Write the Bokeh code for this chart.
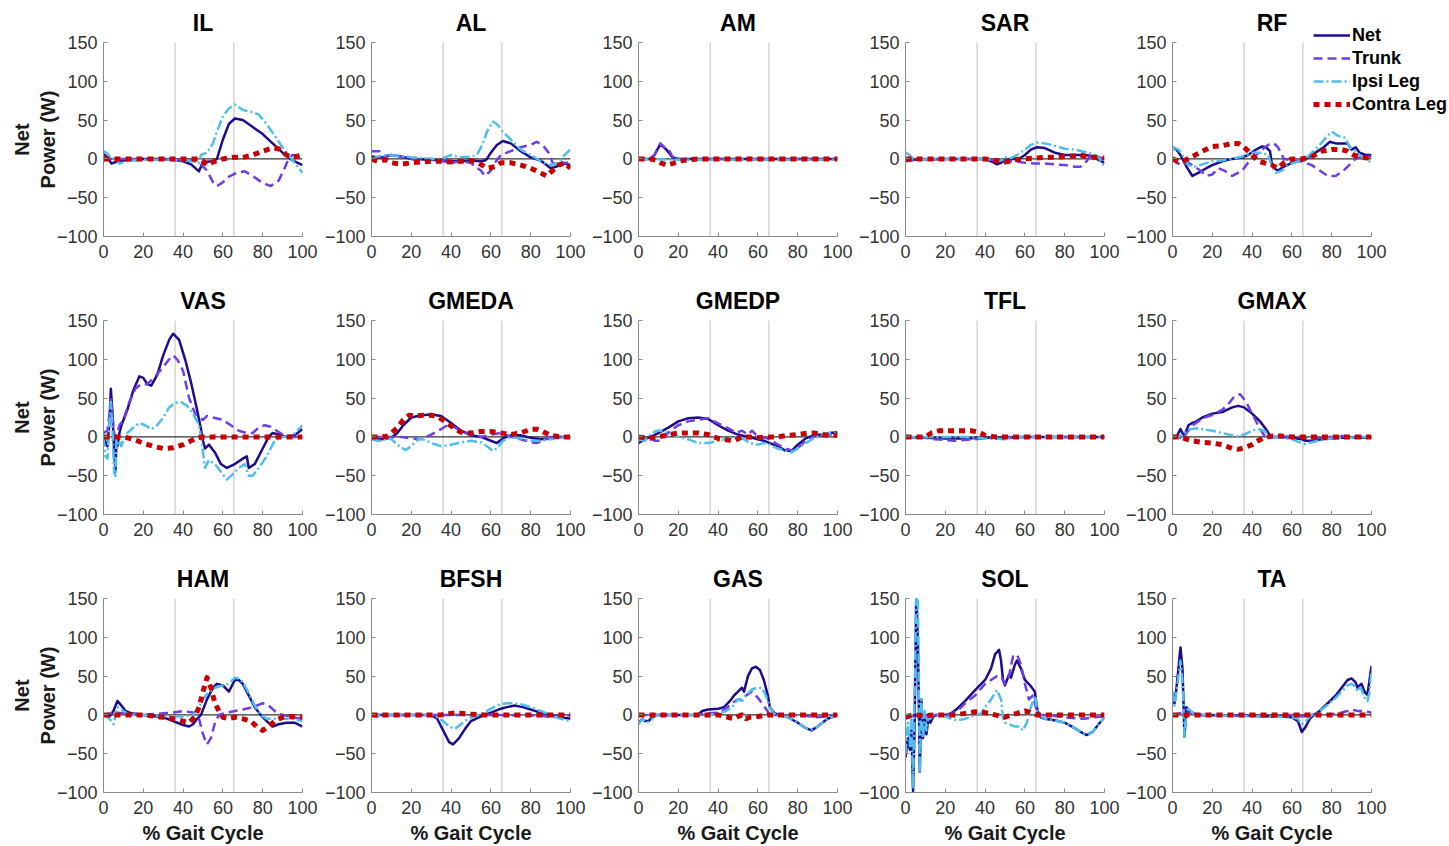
from bokeh.plotting import figure
from bokeh.layouts import column, row
from bokeh.models import Span, Legend, LegendItem, Range1d
from bokeh.embed import file_html
from bokeh.resources import INLINE

# ---------------- data ----------------
MUSCLES = ["IL", "AL", "AM", "SAR", "RF",
           "VAS", "GMEDA", "GMEDP", "TFL", "GMAX",
           "HAM", "BFSH", "GAS", "SOL", "TA"]
SERIES = ["Net", "Trunk", "Ipsi Leg", "Contra Leg"]
X_TICKS = [0, 20, 40, 60, 80, 100]
Y_TICKS = [-100, -50, 0, 50, 100, 150]
GAIT_EVENTS = [36, 65.5]

IL_net = [(0,6),(2,2),(4,-6),(6,-4),(10,-2),(15,-1),(20,0),(30,0),(35,-1),(40,-3),(44,-7),(48,-16),(50,-4),(55,-3),(57,0),(60,25),(63,45),(66,52),(70,50),(75,41),(80,32),(85,20),(90,8),(95,-2),(100,-8)]
IL_trunk = [(0,0),(10,0),(20,0),(30,0),(40,-1),(45,-2),(48,-5),(52,-15),(55,-30),(57,-35),(60,-30),(63,-23),(67,-18),(71,-16),(75,-22),(80,-31),(84,-35),(88,-28),(91,-12),(93,0),(95,5),(100,2)]
IL_ipsi = [(0,10),(2,7),(4,-1),(6,2),(8,-6),(12,-3),(20,-1),(30,-1),(40,-2),(45,-3),(48,-5),(49,5),(52,8),(55,20),(57,35),(60,55),(63,65),(66,70),(70,63),(75,60),(78,57),(82,45),(86,30),(90,15),(93,5),(96,-5),(100,-18)]
IL_contra = [(0,0),(20,0),(40,0),(48,0),(50,-3),(52,-8),(55,-4),(60,0),(65,2),(70,2),(75,5),(80,10),(85,14),(88,13),(92,5),(95,2),(100,5)]

AL_net = [(0,3),(3,2),(6,2),(10,5),(15,3),(20,0),(30,-1),(40,-3),(45,-3),(50,-2),(55,-3),(57,-2),(58,0),(60,8),(63,18),(66,23),(70,20),(75,10),(80,2),(85,-2),(88,-8),(90,-12),(93,-10),(96,-5),(100,-8)]
AL_trunk = [(0,10),(4,10),(6,3),(10,5),(15,3),(20,0),(30,0),(40,-5),(45,-3),(50,-5),(52,-10),(55,-15),(57,-22),(60,-15),(62,-5),(65,5),(70,10),(75,15),(80,18),(83,22),(86,18),(89,8),(91,-5),(94,-10),(97,-5),(100,-5)]
AL_ipsi = [(0,0),(3,3),(8,5),(15,4),(20,2),(30,0),(35,0),(40,5),(45,2),(50,3),(53,5),(56,20),(58,35),(61,48),(63,45),(66,35),(70,25),(75,12),(80,5),(85,-3),(90,-8),(94,-5),(97,5),(100,12)]
AL_contra = [(0,0),(3,-3),(7,-1),(10,-5),(15,-7),(20,-5),(25,-4),(30,-3),(35,-3),(40,-4),(45,-3),(50,-2),(53,-4),(55,-7),(58,-12),(62,-10),(65,-5),(70,-5),(75,-8),(80,-12),(85,-18),(88,-22),(91,-15),(94,-8),(97,-5),(100,-12)]

AM_net = [(0,0),(6,0),(8,5),(11,19),(14,12),(17,2),(20,0),(40,0),(60,0),(80,0),(100,0)]
AM_trunk = [(0,0),(6,0),(8,5),(11,20),(13,15),(15,13),(16,8),(17,3),(20,0),(40,0),(60,0),(80,0),(100,0)]
AM_ipsi = [(0,0),(20,-1),(40,-1),(60,-1),(80,-1),(100,-1)]
AM_contra = [(0,0),(6,0),(9,-2),(11,-5),(14,-8),(17,-6),(20,-3),(25,-1),(30,0),(100,0)]

SAR_net = [(0,0),(5,-1),(20,0),(40,0),(43,-3),(46,-7),(48,-5),(50,-2),(53,0),(57,0),(60,5),(63,12),(66,15),(70,14),(75,8),(80,5),(85,5),(90,5),(93,4),(96,0),(100,-5)]
SAR_trunk = [(0,-3),(3,-2),(6,0),(20,0),(40,0),(45,-2),(50,-3),(55,-3),(60,-5),(65,-6),(70,-6),(75,-7),(80,-8),(85,-10),(88,-10),(91,-3),(93,5),(96,3),(100,0)]
SAR_ipsi = [(0,8),(2,5),(4,0),(8,-1),(20,0),(40,0),(45,-2),(48,-2),(50,2),(53,1),(56,5),(60,12),(63,18),(66,21),(70,20),(75,17),(80,13),(85,12),(90,9),(94,7),(97,2),(100,-10)]
SAR_contra = [(0,0),(20,0),(40,0),(45,-2),(50,-4),(53,-3),(55,-1),(60,0),(65,1),(70,2),(75,2),(80,3),(85,4),(88,5),(91,3),(95,2),(100,1)]

RF_net = [(0,15),(2,12),(4,5),(7,-10),(10,-22),(13,-18),(17,-12),(20,-8),(25,-3),(30,0),(35,2),(38,5),(42,12),(45,16),(47,15),(49,10),(50,-8),(51,-12),(53,-15),(56,-10),(60,-5),(63,-3),(66,-2),(70,5),(73,10),(76,15),(79,22),(82,20),(85,20),(88,20),(90,12),(92,15),(94,8),(97,5),(100,5)]
RF_trunk = [(0,0),(2,-5),(5,-8),(8,-5),(11,-10),(14,-15),(17,-22),(20,-20),(23,-12),(26,-15),(30,-22),(35,-15),(38,-5),(42,5),(45,12),(48,18),(51,20),(53,15),(56,0),(60,-2),(65,-3),(70,-8),(74,-15),(78,-22),(82,-22),(86,-15),(90,-5),(92,0),(95,3),(100,3)]
RF_ipsi = [(0,15),(3,12),(5,5),(8,-8),(11,-10),(15,-7),(20,-3),(25,-2),(30,0),(35,3),(40,8),(45,8),(48,5),(50,-10),(52,-18),(55,-15),(58,-8),(62,-4),(66,-2),(70,8),(74,18),(78,30),(80,35),(83,30),(87,27),(89,15),(92,10),(95,3),(100,-5)]
RF_contra = [(0,0),(3,-3),(6,-2),(10,3),(15,10),(20,16),(25,17),(30,20),(33,20),(36,15),(40,5),(43,-3),(46,-5),(50,-8),(53,-12),(56,-5),(60,0),(65,0),(70,3),(75,10),(80,12),(85,12),(88,10),(91,5),(95,2),(100,1)]

VAS_net = [(0,0),(1,-8),(2,-12),(3,20),(3.7,62),(4.5,30),(5.3,-15),(6,-45),(6.5,-5),(7,-12),(8,5),(9,15),(12,35),(15,60),(18,78),(20,76),(22,68),(24,66),(27,80),(30,105),(33,125),(35,133),(38,125),(41,100),(44,70),(47,35),(49,10),(50,-5),(51,-15),(53,-10),(56,-20),(59,-35),(62,-40),(66,-35),(70,-28),(72,-25),(73,-40),(76,-35),(80,-15),(83,0),(85,5),(88,3),(92,0),(96,2),(100,10)]
VAS_trunk = [(0,5),(2,8),(3,30),(3.7,50),(4.5,30),(5.3,5),(6,0),(7,5),(8,15),(10,22),(13,45),(16,62),(19,68),(22,68),(26,78),(30,90),(33,100),(35,105),(37,100),(40,85),(43,50),(46,30),(48,25),(50,22),(52,27),(55,25),(60,22),(64,15),(68,8),(72,5),(75,5),(78,12),(81,15),(84,13),(87,8),(90,3),(95,0),(100,0)]
VAS_ipsi = [(0,0),(1,-25),(2,-28),(3,20),(3.7,45),(4.5,10),(5.3,-45),(6,-50),(6.5,-5),(7,-10),(8,-5),(9,-12),(10,-3),(12,5),(15,12),(18,18),(21,15),(24,10),(27,15),(30,25),(33,38),(36,44),(39,45),(42,40),(45,30),(48,15),(49,0),(50,-20),(51,-40),(53,-30),(56,-35),(59,-45),(62,-55),(65,-48),(68,-40),(71,-35),(73,-50),(75,-50),(78,-40),(82,-25),(86,-5),(90,0),(95,2),(100,15)]
VAS_contra = [(0,0),(10,0),(15,-3),(20,-8),(25,-12),(30,-15),(35,-14),(40,-10),(44,-5),(47,-1),(50,0),(75,0),(100,0)]

GMEDA_net = [(0,0),(5,-3),(10,-1),(13,5),(16,15),(20,25),(25,28),(30,29),(35,27),(40,18),(45,8),(50,2),(55,0),(60,-5),(63,-8),(66,-2),(70,2),(75,2),(80,-1),(85,-3),(90,-2),(95,0),(100,0)]
GMEDA_trunk = [(0,0),(15,0),(20,-2),(25,-3),(30,3),(35,10),(38,15),(42,12),(45,8),(50,3),(55,0),(60,3),(65,5),(70,0),(75,-3),(80,-7),(83,-8),(86,-5),(90,0),(100,0)]
GMEDA_ipsi = [(0,-3),(3,-5),(6,-5),(8,0),(10,-3),(13,-10),(17,-17),(20,-12),(24,-2),(27,-4),(30,-8),(35,-12),(40,-10),(45,-7),(50,-5),(55,-7),(58,-12),(61,-18),(63,-15),(66,-5),(70,0),(75,-2),(80,-5),(85,-5),(90,-3),(95,-1),(100,0)]
GMEDA_contra = [(0,0),(5,0),(8,1),(10,5),(13,12),(16,22),(19,28),(22,27),(26,28),(30,28),(34,25),(38,18),(42,10),(46,5),(50,5),(55,7),(60,7),(65,5),(70,3),(75,5),(80,10),(83,10),(86,7),(90,2),(95,0),(100,0)]

GMEDP_net = [(0,-8),(3,-3),(6,0),(10,5),(15,12),(20,20),(25,24),(30,25),(35,23),(40,15),(45,8),(50,3),(55,0),(60,-3),(63,-5),(66,-8),(70,-12),(74,-18),(77,-18),(80,-10),(84,-2),(88,2),(92,3),(96,5),(100,6)]
GMEDP_trunk = [(0,-5),(5,0),(8,-5),(11,-5),(13,0),(16,8),(20,15),(25,20),(30,22),(35,24),(38,20),(42,15),(46,10),(49,5),(52,8),(55,3),(57,8),(59,3),(62,0),(66,-3),(70,-10),(74,-15),(78,-18),(81,-12),(84,-5),(88,0),(92,3),(100,3)]
GMEDP_ipsi = [(0,-3),(3,-5),(6,3),(9,8),(12,8),(15,5),(20,0),(25,-3),(30,-8),(35,-8),(40,-5),(45,-2),(50,0),(53,-3),(56,-8),(60,-10),(63,-8),(66,-10),(70,-15),(74,-18),(77,-20),(80,-15),(84,-8),(88,-2),(92,3),(96,5),(100,5)]
GMEDP_contra = [(0,0),(5,-2),(10,0),(15,3),(20,5),(25,5),(30,5),(35,3),(40,-2),(45,-4),(48,-5),(52,0),(55,0),(60,-1),(65,0),(70,0),(75,2),(80,3),(85,5),(88,5),(92,3),(96,2),(100,2)]

TFL_net = [(0,0),(10,-1),(20,-2),(30,-2),(40,-1),(50,-1),(60,0),(100,0)]
TFL_trunk = [(0,0),(10,-1),(15,-3),(25,-5),(35,-3),(42,-1),(50,0),(100,0)]
TFL_ipsi = [(0,0),(30,0),(40,-2),(50,-3),(55,-1),(60,0),(100,0)]
TFL_contra = [(0,0),(10,0),(13,5),(17,8),(22,8),(27,8),(33,8),(37,6),(40,2),(45,0),(100,0)]

GMAX_net = [(0,0),(2,0),(4,10),(5,5),(6,2),(8,15),(10,18),(12,20),(15,25),(20,30),(25,32),(30,38),(33,40),(36,38),(40,30),(44,20),(47,10),(49,2),(50,0),(55,0),(60,-1),(65,-3),(67,-5),(70,-5),(75,-3),(80,-2),(85,-1),(100,-1)]
GMAX_trunk = [(0,0),(3,0),(5,-3),(7,5),(10,15),(13,20),(16,25),(20,28),(25,35),(28,42),(31,52),(34,55),(37,45),(40,30),(43,15),(46,2),(50,0),(55,0),(60,1),(65,0),(70,-2),(75,-1),(80,0),(85,1),(100,0)]
GMAX_ipsi = [(0,0),(3,0),(6,5),(9,10),(12,11),(15,10),(20,8),(25,5),(30,2),(33,1),(36,3),(40,8),(43,10),(46,8),(48,3),(50,0),(55,-1),(60,-3),(63,-6),(66,-9),(70,-7),(75,-4),(80,-2),(85,-1),(90,-1),(100,0)]
GMAX_contra = [(0,0),(4,0),(7,-3),(10,-5),(15,-7),(20,-8),(25,-10),(30,-15),(33,-16),(36,-14),(40,-10),(43,-5),(46,-1),(50,1),(55,1),(60,0),(100,0)]

HAM_net = [(0,0),(3,-2),(5,5),(7,18),(9,12),(11,5),(14,2),(20,0),(30,-3),(35,-8),(40,-13),(43,-15),(45,-12),(47,-5),(49,0),(52,20),(55,35),(57,40),(60,38),(63,30),(66,45),(68,45),(70,40),(73,25),(76,10),(79,0),(82,-8),(85,-15),(88,-12),(92,-10),(96,-10),(100,-15)]
HAM_trunk = [(0,0),(5,3),(10,2),(20,0),(30,2),(35,3),(40,5),(45,3),(48,-5),(50,-25),(52,-38),(54,-30),(56,-10),(58,0),(62,3),(66,5),(70,7),(75,10),(80,15),(83,12),(87,3),(90,0),(95,-3),(100,-5)]
HAM_ipsi = [(0,0),(3,-5),(5,-12),(7,10),(10,5),(13,0),(20,0),(30,-2),(40,-2),(45,0),(48,10),(50,20),(53,30),(56,35),(60,38),(63,40),(66,48),(68,47),(70,42),(73,28),(76,12),(79,0),(82,-5),(85,-5),(90,-5),(95,-5),(100,-8)]
HAM_contra = [(0,0),(20,0),(30,-3),(35,-5),(40,-8),(43,-10),(46,-2),(48,10),(50,30),(52,48),(54,35),(56,15),(58,5),(60,-3),(63,-5),(66,-3),(70,-5),(74,-8),(77,-15),(80,-20),(83,-15),(86,-8),(90,-3),(95,-2),(100,-3)]

BFSH_net = [(0,0),(30,0),(33,-5),(36,-20),(39,-35),(41,-38),(44,-30),(47,-18),(50,-8),(55,-2),(60,3),(65,8),(68,10),(72,12),(76,10),(80,7),(85,3),(90,0),(95,-3),(100,-5)]
BFSH_trunk = [(0,0),(40,0),(60,0),(85,-1),(90,-3),(95,-2),(100,0)]
BFSH_ipsi = [(0,0),(3,-3),(5,2),(8,0),(30,0),(33,-3),(36,-8),(39,-15),(42,-18),(45,-12),(48,-6),(52,-2),(56,2),(60,8),(64,13),(68,15),(72,15),(76,13),(80,10),(85,5),(90,0),(95,-5),(100,-8)]
BFSH_contra = [(0,0),(35,0),(40,2),(45,2),(50,1),(55,0),(100,0)]

GAS_net = [(0,-10),(2,-5),(3,-8),(5,-8),(7,-3),(8,0),(30,0),(32,5),(35,7),(40,8),(43,10),(46,18),(48,25),(50,30),(52,35),(53,30),(55,50),(57,60),(59,62),(61,58),(63,45),(65,25),(66,10),(68,3),(70,0),(75,-3),(80,-10),(84,-17),(87,-20),(90,-15),(95,-5),(100,0)]
GAS_trunk = [(0,0),(30,0),(35,2),(40,3),(44,8),(47,15),(50,20),(52,20),(54,25),(57,30),(60,22),(62,15),(64,8),(66,0),(80,0),(90,-3),(100,0)]
GAS_ipsi = [(0,-12),(2,-5),(4,-10),(6,-8),(8,-2),(10,0),(35,0),(40,2),(44,5),(47,10),(50,20),(52,18),(54,25),(57,33),(60,35),(62,35),(64,25),(66,10),(68,2),(70,0),(75,-3),(80,-10),(84,-17),(87,-19),(90,-15),(95,-5),(100,0)]
GAS_contra = [(0,0),(40,0),(45,-3),(48,-5),(50,-2),(52,0),(54,-5),(56,-3),(60,-2),(65,0),(100,0)]

SOL_net = [(0,-55),(1.2,-30),(2.2,-45),(3,-20),(3.8,-98),(4.6,-10),(5.4,155),(6.2,100),(7.2,-73),(8,20),(8.8,-30),(9.7,0),(10.5,-25),(11.5,-5),(12.5,-10),(14,-2),(16,0),(20,0),(23,2),(26,8),(30,18),(35,32),(40,45),(43,60),(45,78),(47,84),(48,70),(49,45),(50,38),(52,52),(53,48),(55,65),(56,70),(58,60),(60,45),(63,37),(65,30),(66,10),(67,0),(68,-3),(70,-5),(75,-7),(80,-10),(85,-17),(88,-22),(91,-26),(94,-22),(97,-12),(100,-3)]
SOL_trunk = [(0,-5),(5,0),(10,-2),(15,0),(20,0),(23,2),(26,5),(30,15),(35,25),(40,40),(43,45),(46,50),(48,50),(50,40),(52,50),(54,75),(56,78),(58,65),(60,40),(62,20),(64,25),(66,5),(68,0),(70,0),(80,-3),(88,-5),(90,-5),(95,-3),(100,-2)]
SOL_ipsi = [(0,-50),(1.2,-10),(2.2,-40),(3,0),(3.8,-95),(4.6,30),(5.4,155),(6.2,155),(7.2,-75),(8,20),(8.8,-30),(9.7,5),(10.5,-20),(11.5,-5),(12.5,-5),(14,0),(17,0),(20,-2),(23,-5),(26,-7),(30,-5),(35,0),(38,2),(40,10),(43,20),(46,32),(48,20),(49,-5),(50,-10),(52,-12),(55,-15),(57,-15),(59,-20),(61,-10),(63,10),(65,25),(66,10),(67,0),(70,-5),(75,-7),(80,-10),(85,-17),(88,-22),(91,-25),(94,-22),(97,-12),(100,-3)]
SOL_contra = [(0,-2),(5,0),(10,-1),(15,0),(25,0),(30,2),(35,4),(40,3),(45,0),(50,-3),(53,0),(56,2),(60,5),(63,3),(66,0),(70,0),(100,0)]

TA_net = [(0,30),(1,15),(2,35),(3,60),(4,87),(5,60),(5.5,20),(6,-28),(7,10),(8,5),(10,3),(12,0),(40,-1),(50,-2),(55,-2),(60,-3),(63,-8),(65,-22),(67,-15),(69,-5),(71,0),(74,5),(78,15),(82,25),(85,35),(88,45),(90,47),(92,42),(93,35),(94,38),(95,40),(96,33),(97,28),(98,26),(99,45),(100,63)]
TA_trunk = [(0,0),(5,3),(10,2),(15,0),(40,-1),(45,-2),(50,-1),(60,0),(65,-2),(70,0),(75,0),(80,1),(85,3),(88,5),(90,7),(93,5),(96,5),(100,3)]
TA_ipsi = [(0,30),(1,12),(2,30),(3,50),(4,70),(5,45),(5.5,15),(6,-28),(7,5),(8,8),(10,3),(12,0),(60,-3),(63,-5),(65,-12),(67,-8),(70,0),(74,5),(78,13),(82,22),(85,30),(88,38),(90,40),(92,36),(93,30),(94,35),(95,33),(96,25),(97,20),(98,18),(99,30),(100,58)]
TA_contra = [(0,0),(100,0)]

DATA = {
    "IL": [IL_net, IL_trunk, IL_ipsi, IL_contra],
    "AL": [AL_net, AL_trunk, AL_ipsi, AL_contra],
    "AM": [AM_net, AM_trunk, AM_ipsi, AM_contra],
    "SAR": [SAR_net, SAR_trunk, SAR_ipsi, SAR_contra],
    "RF": [RF_net, RF_trunk, RF_ipsi, RF_contra],
    "VAS": [VAS_net, VAS_trunk, VAS_ipsi, VAS_contra],
    "GMEDA": [GMEDA_net, GMEDA_trunk, GMEDA_ipsi, GMEDA_contra],
    "GMEDP": [GMEDP_net, GMEDP_trunk, GMEDP_ipsi, GMEDP_contra],
    "TFL": [TFL_net, TFL_trunk, TFL_ipsi, TFL_contra],
    "GMAX": [GMAX_net, GMAX_trunk, GMAX_ipsi, GMAX_contra],
    "HAM": [HAM_net, HAM_trunk, HAM_ipsi, HAM_contra],
    "BFSH": [BFSH_net, BFSH_trunk, BFSH_ipsi, BFSH_contra],
    "GAS": [GAS_net, GAS_trunk, GAS_ipsi, GAS_contra],
    "SOL": [SOL_net, SOL_trunk, SOL_ipsi, SOL_contra],
    "TA": [TA_net, TA_trunk, TA_ipsi, TA_contra],
}

# ---------------- styling ----------------
FONT = "Liberation Sans"
STYLE = {
    "Net": dict(line_color="#1d0c8c", line_width=2.5, line_dash="solid"),
    "Trunk": dict(line_color="#6e3fe2", line_width=2.5, line_dash="9 5"),
    "Ipsi Leg": dict(line_color="#4dbeee", line_width=2.5, line_dash="10 3 2 3"),
    "Contra Leg": dict(line_color="#c80000", line_width=5, line_dash="6 5"),
}
FW, FH = 199, 194


def make_panel(i, name):
    r, c = divmod(i, 5)
    left = 103 if c == 0 else 44
    right = 77 if c == 4 else 18
    if c == 0:
        right = 19
    top = 42
    bottom = 54 if r == 2 else 42
    p = figure(frame_width=FW, frame_height=FH,
               x_range=Range1d(0, 100), y_range=Range1d(-100, 150),
               output_backend="svg", toolbar_location=None,
               min_border_left=left, min_border_right=right,
               min_border_top=top, min_border_bottom=bottom,
               title=name)
    p.title.align = "center"
    p.title.text_font = FONT
    p.title.text_font_size = "23px"
    p.title.text_font_style = "bold"
    p.title.text_color = "black"
    p.title.standoff = 14
    p.outline_line_color = None
    p.xgrid.visible = False
    p.ygrid.visible = False
    p.background_fill_color = "white"
    p.border_fill_color = "white"
    p.xaxis.ticker = X_TICKS
    p.yaxis.ticker = Y_TICKS
    for ax in (p.xaxis[0], p.yaxis[0]):
        ax.axis_line_color = "#8a8a8a"
        ax.major_tick_line_color = "#8a8a8a"
        ax.major_tick_in = 4
        ax.major_tick_out = 0
        ax.minor_tick_line_color = None
        ax.major_label_text_font = FONT
        ax.major_label_text_font_size = "18px"
        ax.major_label_text_color = "#333333"
        ax.axis_label_text_font = FONT
        ax.axis_label_text_font_size = "20px"
        ax.axis_label_text_font_style = "bold"
        ax.axis_label_text_color = "#1a1a1a"
    p.xaxis.major_label_standoff = 8
    p.yaxis.major_label_standoff = 6
    if c == 0:
        p.yaxis.axis_label = "Net\nPower (W)"
        p.yaxis.axis_label_standoff = -5
    if r == 2:
        p.xaxis.axis_label = "% Gait Cycle"
        p.xaxis.axis_label_standoff = 5

    for ev in GAIT_EVENTS:
        p.add_layout(Span(location=ev, dimension="height", line_color="#d4d4d4",
                          line_width=1.5, level="underlay"))
    p.add_layout(Span(location=0, dimension="width", line_color="black",
                      line_width=1, level="underlay"))

    renderers = []
    for sname, pts in zip(SERIES, DATA[name]):
        xs = [pt[0] for pt in pts]
        ys = [pt[1] for pt in pts]
        rr = p.line(xs, ys, line_join="round", **STYLE[sname])
        renderers.append(rr)

    if name == "RF":
        legend = Legend(items=[LegendItem(label=s, renderers=[rr]) for s, rr in zip(SERIES, renderers)],
                        location=(-58, 121))
        legend.label_text_font = FONT
        legend.label_text_font_size = "18px"
        legend.label_text_font_style = "bold"
        legend.label_text_color = "black"
        legend.glyph_width = 37
        legend.glyph_height = 22
        legend.label_height = 22
        legend.label_standoff = 2
        legend.spacing = 1
        legend.padding = 0
        legend.margin = -40
        legend.border_line_color = None
        legend.background_fill_alpha = 0
        p.add_layout(legend, "right")
    return p


figs = [make_panel(i, m) for i, m in enumerate(MUSCLES)]
layout = column(row(*figs[0:5]), row(*figs[5:10]), row(*figs[10:15]))

open("out.html", "w").write(file_html(layout, INLINE))
